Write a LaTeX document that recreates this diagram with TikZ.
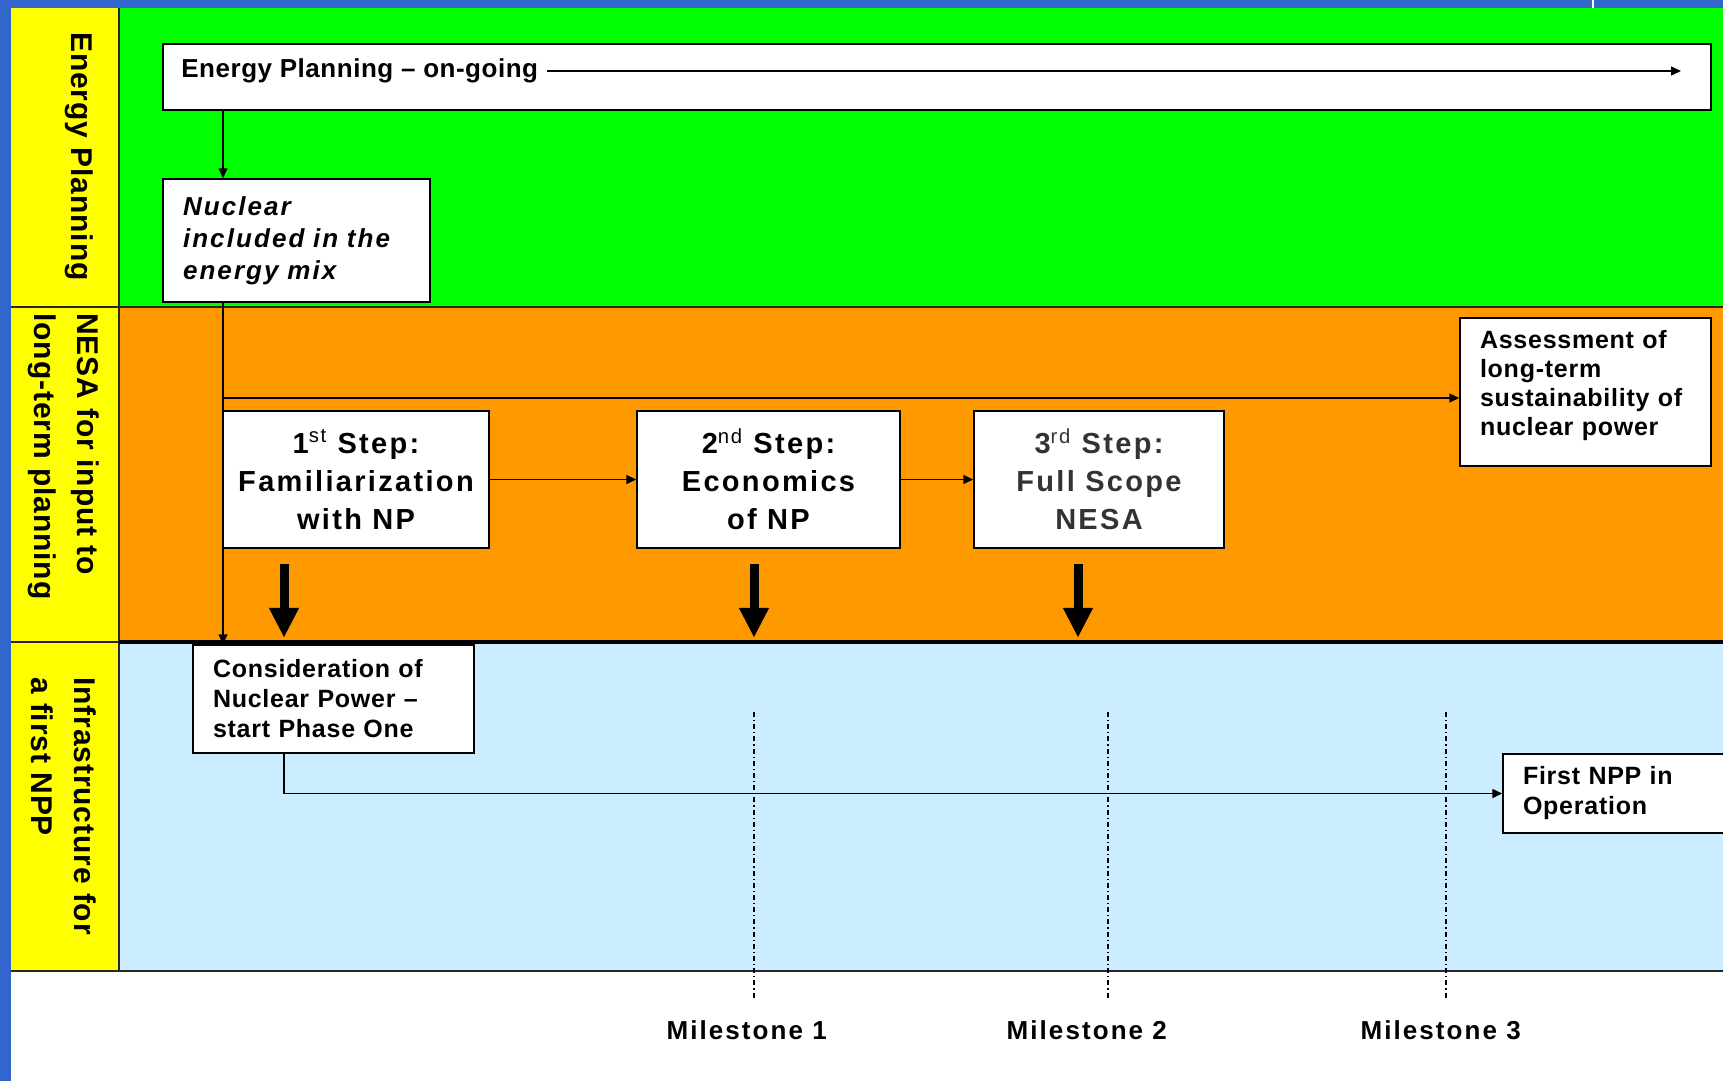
\documentclass[tikz,border=0pt]{standalone}
\usepackage{fontspec}
\setmainfont{Liberation Sans}
\newfontfamily\slidefont[LetterSpace=3]{Liberation Sans}
\newfontfamily\tightfont[LetterSpace=2]{Liberation Sans}
\newfontfamily\widefont[LetterSpace=8]{Liberation Sans}
\usetikzlibrary{arrows.meta,positioning}

\definecolor{slideblue}{HTML}{3366CC}
\definecolor{lanegreen}{HTML}{00FF00}
\definecolor{laneorange}{HTML}{FF9900}
\definecolor{laneblue}{HTML}{CCECFF}
\definecolor{laneyellow}{HTML}{FFFF00}

\begin{document}
\begin{tikzpicture}[
    x=0.5pt,
    y=-0.5pt,
    font=\slidefont\bfseries\fontsize{13}{15}\selectfont,
    >=Stealth,
    lane/.style={draw=black!85,line width=1pt},
    box/.style={draw=black,fill=white,line width=0.75pt,inner sep=0pt},
    leftbox/.style={box,align=left,inner xsep=10pt},
    stepbox/.style={box,align=center,minimum height=68.5pt,
                    font=\widefont\bfseries\fontsize{14.5}{19}\selectfont},
    flow/.style={-{Triangle[length=5pt,width=4.5pt]},draw=black,line width=0.75pt},
    bigdown/.style={-{Triangle[length=15pt,width=14pt]},draw=black,line width=4.5pt},
    mstone/.style={draw=black,line width=0.7pt,
                   dash pattern=on 2.5pt off 1.5pt on 0.6pt off 1.5pt},
    lanelbl/.style={rotate=-90,align=left,inner sep=0pt,
                    font=\slidefont\bfseries\fontsize{15}{21.5}\selectfont}
]

\useasboundingbox (0,0) rectangle (1723,1081);
\clip (0,0) rectangle (1723,1081);

% slide frame and lanes
\fill[white] (0,0) rectangle (1723,1081);
\fill[slideblue] (0,0) rectangle (1723,8);
\fill[slideblue] (0,0) rectangle (11,1081);
\draw[white,line width=1pt] (1593,0) -- (1593,8);
\fill[laneyellow] (11,8) rectangle (119,971);
\fill[lanegreen] (119,8) rectangle (1723,307);
\fill[laneorange] (119,307) rectangle (1723,642);
\fill[laneblue] (119,642) rectangle (1723,971);

\draw[lane] (11,307) -- (1723,307);
\draw[lane] (11,642) -- (119,642);
\draw[lane] (11,971) -- (1723,971);
\draw[lane] (119,8) -- (119,971);
\draw[draw=black,line width=2pt] (119,642) -- (1723,642);

\node[lanelbl] (lblenergy) at (79,156.5) {Energy Planning};
\node[lanelbl,anchor=west] (lblnesa) at (63.5,313) {NESA for input to\\long-term planning};
\node[lanelbl] (lblinfra) at (63.5,806) {Infrastructure for\\a first NPP};

% energy planning
\node[box,minimum width=774pt,minimum height=33pt] (eplan) at (937,77) {};
\node[anchor=west,inner sep=0pt,font=\tightfont\bfseries\fontsize{13}{15}\selectfont]
    (eplanlbl) at (181,71) {Energy Planning – on-going};
\coordinate (eplanend) at (1681,71);
\draw[flow] ([xshift=4.5pt]eplanlbl.east) -- (eplanlbl.east -| eplanend);

\node[leftbox,text width=113.5pt,minimum height=61.5pt,
      font=\widefont\bfseries\itshape\fontsize{13}{16}\selectfont]
    (nuclear) at (296.5,240.5) {Nuclear\\included in the\\energy mix};

\coordinate (trunk) at (223,0);
\draw[flow] (eplan.south -| trunk) -- (nuclear.north -| trunk);

% NESA steps
\node[stepbox,minimum width=133pt] (step1) at (356,479.5)
    {1\textsuperscript{\mdseries st} Step:\\Familiarization\\with NP};
\node[stepbox,minimum width=131.5pt] (step2) at (768.5,479.5)
    {2\textsuperscript{\mdseries nd} Step:\\Economics\\of NP};
\node[stepbox,minimum width=125pt,text=black!80] (step3) at (1099,479.5)
    {3\textsuperscript{\mdseries rd} Step:\\Full Scope\\NESA};

\node[leftbox,text width=105.5pt,minimum height=74pt,
      font=\slidefont\bfseries\fontsize{12.5}{14.5}\selectfont]
    (assess) at (1585.5,392) {Assessment of\\long-term\\sustainability of\\nuclear power\\[-5pt]\mbox{}};

\draw[flow] (step1) -- (step2);
\draw[flow] (step2) -- (step3);

\draw[bigdown] ([xshift=-36pt,yshift=-7.5pt]step1.south) -- ++(0,74);
\draw[bigdown] ([xshift=-7.25pt,yshift=-7.5pt]step2.south) -- ++(0,74);
\draw[bigdown] ([xshift=-10.5pt,yshift=-7.5pt]step3.south) -- ++(0,74);

% infrastructure
\node[leftbox,text width=120.5pt,minimum height=54pt,
      font=\slidefont\bfseries\fontsize{12.5}{15}\selectfont]
    (consid) at (333.5,699) {Consideration of\\Nuclear Power –\\start Phase One};
\node[leftbox,text width=98.5pt,minimum height=39.5pt,
      font=\slidefont\bfseries\fontsize{12.5}{15}\selectfont]
    (firstnpp) at (1621.5,793.5) {First NPP in\\Operation};

\coordinate (branch) at ([yshift=-3pt]assess.west);
\draw[flow] (nuclear.south -| trunk) -- (consid.north -| trunk);
\draw[flow] (branch -| trunk) -- (branch);
\draw[flow] ([xshift=-24.75pt]consid.south) |- (firstnpp.west);

% milestones
\foreach \mx/\lx/\n in {754/746.7/1, 1108/1086.8/2, 1446/1440.7/3} {
    \draw[mstone] (\mx,712) -- (\mx,1000);
    \node[font=\widefont\bfseries\fontsize{13}{15}\selectfont] (ms\n) at (\lx,1030) {Milestone \n};
}

\end{tikzpicture}
\end{document}
